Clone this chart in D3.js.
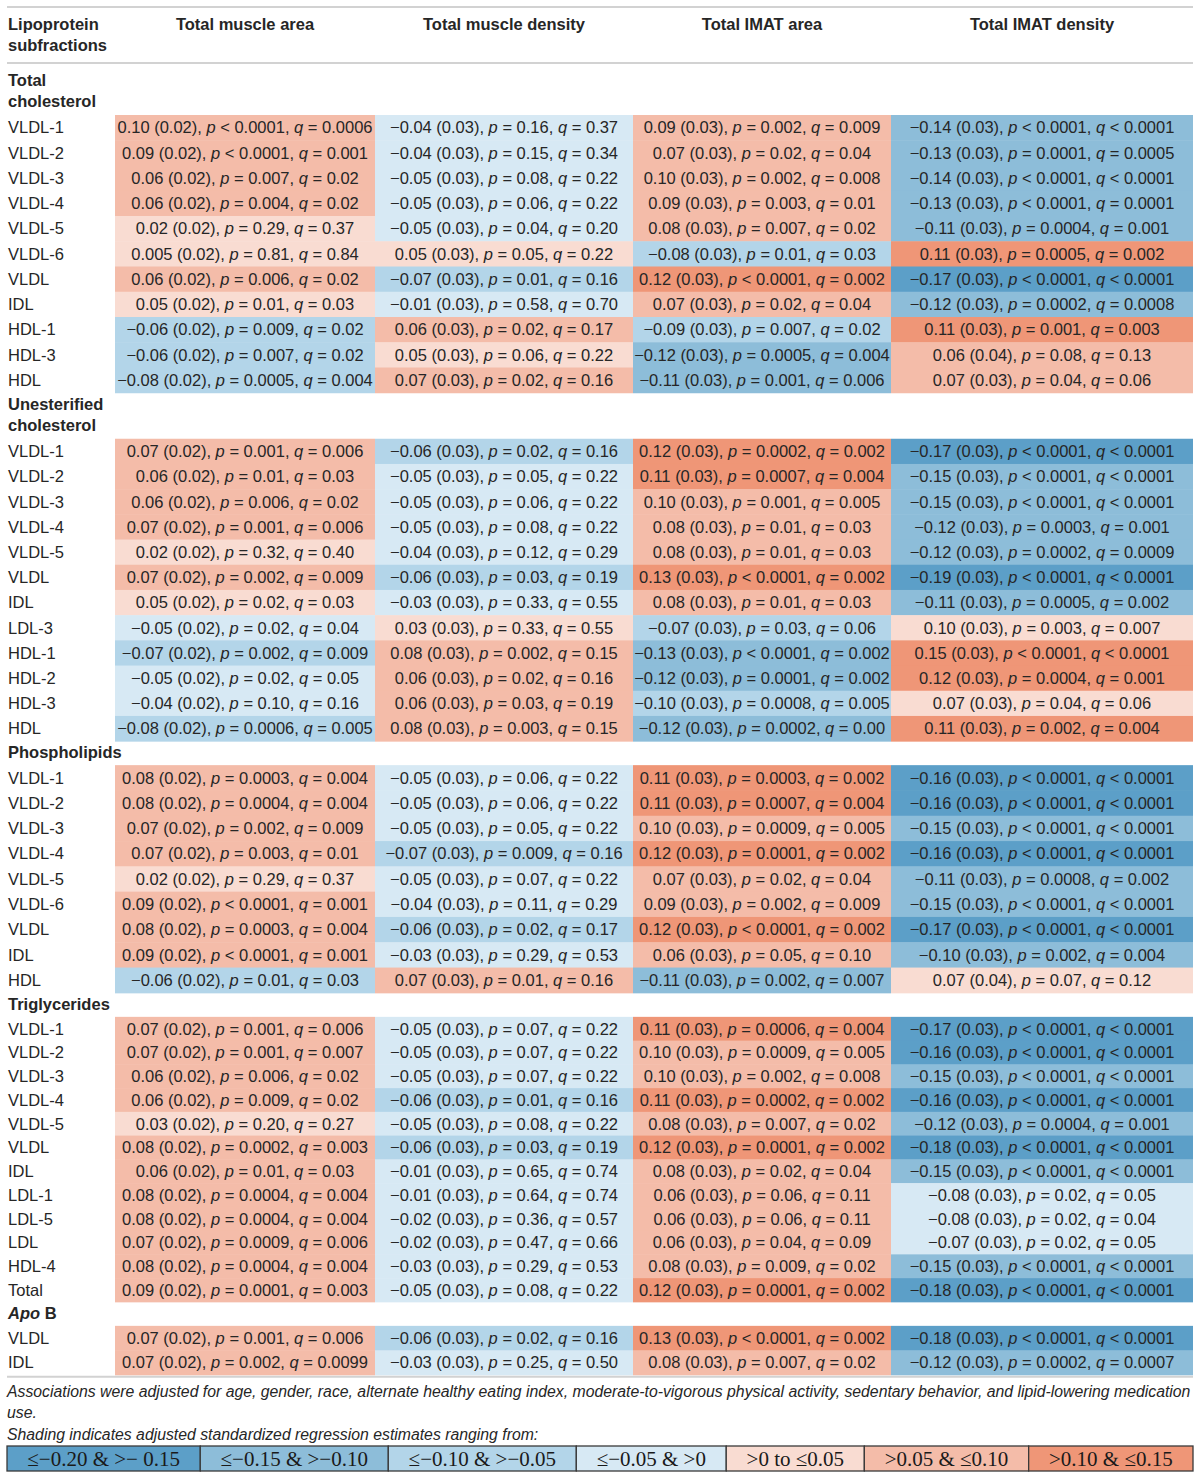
<!DOCTYPE html>
<html>
<head>
<meta charset="utf-8">
<script src="https://cdn.jsdelivr.net/npm/d3@7"></script>
<style>
  body { margin: 0; background: #fff; }
  svg text { font-family: "Helvetica Neue", Helvetica, "Liberation Sans", Arial, sans-serif; white-space: pre; }
</style>
</head>
<body>
<div id="chart"></div>
<script>
// ---- data ----
const columns = ["Total muscle area", "Total muscle density", "Total IMAT area", "Total IMAT density"];
const sectionNames = ["Total cholesterol", "Unesterified cholesterol", "Phospholipids", "Triglycerides", "Apo B"];

const totalCholLabels = ["VLDL-1", "VLDL-2", "VLDL-3", "VLDL-4", "VLDL-5", "VLDL-6", "VLDL", "IDL", "HDL-1", "HDL-3", "HDL"];
const totalCholCells = [
  ["0.10 (0.02), p < 0.0001, q = 0.0006", "−0.04 (0.03), p = 0.16, q = 0.37", "0.09 (0.03), p = 0.002, q = 0.009", "−0.14 (0.03), p < 0.0001, q < 0.0001"],
  ["0.09 (0.02), p < 0.0001, q = 0.001", "−0.04 (0.03), p = 0.15, q = 0.34", "0.07 (0.03), p = 0.02, q = 0.04", "−0.13 (0.03), p = 0.0001, q = 0.0005"],
  ["0.06 (0.02), p = 0.007, q = 0.02", "−0.05 (0.03), p = 0.08, q = 0.22", "0.10 (0.03), p = 0.002, q = 0.008", "−0.14 (0.03), p < 0.0001, q < 0.0001"],
  ["0.06 (0.02), p = 0.004, q = 0.02", "−0.05 (0.03), p = 0.06, q = 0.22", "0.09 (0.03), p = 0.003, q = 0.01", "−0.13 (0.03), p < 0.0001, q = 0.0001"],
  ["0.02 (0.02), p = 0.29, q = 0.37", "−0.05 (0.03), p = 0.04, q = 0.20", "0.08 (0.03), p = 0.007, q = 0.02", "−0.11 (0.03), p = 0.0004, q = 0.001"],
  ["0.005 (0.02), p = 0.81, q = 0.84", "0.05 (0.03), p = 0.05, q = 0.22", "−0.08 (0.03), p = 0.01, q = 0.03", "0.11 (0.03), p = 0.0005, q = 0.002"],
  ["0.06 (0.02), p = 0.006, q = 0.02", "−0.07 (0.03), p = 0.01, q = 0.16", "0.12 (0.03), p < 0.0001, q = 0.002", "−0.17 (0.03), p < 0.0001, q < 0.0001"],
  ["0.05 (0.02), p = 0.01, q = 0.03", "−0.01 (0.03), p = 0.58, q = 0.70", "0.07 (0.03), p = 0.02, q = 0.04", "−0.12 (0.03), p = 0.0002, q = 0.0008"],
  ["−0.06 (0.02), p = 0.009, q = 0.02", "0.06 (0.03), p = 0.02, q = 0.17", "−0.09 (0.03), p = 0.007, q = 0.02", "0.11 (0.03), p = 0.001, q = 0.003"],
  ["−0.06 (0.02), p = 0.007, q = 0.02", "0.05 (0.03), p = 0.06, q = 0.22", "−0.12 (0.03), p = 0.0005, q = 0.004", "0.06 (0.04), p = 0.08, q = 0.13"],
  ["−0.08 (0.02), p = 0.0005, q = 0.004", "0.07 (0.03), p = 0.02, q = 0.16", "−0.11 (0.03), p = 0.001, q = 0.006", "0.07 (0.03), p = 0.04, q = 0.06"]
];

const unestCholLabels = ["VLDL-1", "VLDL-2", "VLDL-3", "VLDL-4", "VLDL-5", "VLDL", "IDL", "LDL-3", "HDL-1", "HDL-2", "HDL-3", "HDL"];
const unestCholCells = [
  ["0.07 (0.02), p = 0.001, q = 0.006", "−0.06 (0.03), p = 0.02, q = 0.16", "0.12 (0.03), p = 0.0002, q = 0.002", "−0.17 (0.03), p < 0.0001, q < 0.0001"],
  ["0.06 (0.02), p = 0.01, q = 0.03", "−0.05 (0.03), p = 0.05, q = 0.22", "0.11 (0.03), p = 0.0007, q = 0.004", "−0.15 (0.03), p < 0.0001, q < 0.0001"],
  ["0.06 (0.02), p = 0.006, q = 0.02", "−0.05 (0.03), p = 0.06, q = 0.22", "0.10 (0.03), p = 0.001, q = 0.005", "−0.15 (0.03), p < 0.0001, q < 0.0001"],
  ["0.07 (0.02), p = 0.001, q = 0.006", "−0.05 (0.03), p = 0.08, q = 0.22", "0.08 (0.03), p = 0.01, q = 0.03", "−0.12 (0.03), p = 0.0003, q = 0.001"],
  ["0.02 (0.02), p = 0.32, q = 0.40", "−0.04 (0.03), p = 0.12, q = 0.29", "0.08 (0.03), p = 0.01, q = 0.03", "−0.12 (0.03), p = 0.0002, q = 0.0009"],
  ["0.07 (0.02), p = 0.002, q = 0.009", "−0.06 (0.03), p = 0.03, q = 0.19", "0.13 (0.03), p < 0.0001, q = 0.002", "−0.19 (0.03), p < 0.0001, q < 0.0001"],
  ["0.05 (0.02), p = 0.02, q = 0.03", "−0.03 (0.03), p = 0.33, q = 0.55", "0.08 (0.03), p = 0.01, q = 0.03", "−0.11 (0.03), p = 0.0005, q = 0.002"],
  ["−0.05 (0.02), p = 0.02, q = 0.04", "0.03 (0.03), p = 0.33, q = 0.55", "−0.07 (0.03), p = 0.03, q = 0.06", "0.10 (0.03), p = 0.003, q = 0.007"],
  ["−0.07 (0.02), p = 0.002, q = 0.009", "0.08 (0.03), p = 0.002, q = 0.15", "−0.13 (0.03), p < 0.0001, q = 0.002", "0.15 (0.03), p < 0.0001, q < 0.0001"],
  ["−0.05 (0.02), p = 0.02, q = 0.05", "0.06 (0.03), p = 0.02, q = 0.16", "−0.12 (0.03), p = 0.0001, q = 0.002", "0.12 (0.03), p = 0.0004, q = 0.001"],
  ["−0.04 (0.02), p = 0.10, q = 0.16", "0.06 (0.03), p = 0.03, q = 0.19", "−0.10 (0.03), p = 0.0008, q = 0.005", "0.07 (0.03), p = 0.04, q = 0.06"],
  ["−0.08 (0.02), p = 0.0006, q = 0.005", "0.08 (0.03), p = 0.003, q = 0.15", "−0.12 (0.03), p = 0.0002, q = 0.00", "0.11 (0.03), p = 0.002, q = 0.004"]
];

const phosphoLabels = ["VLDL-1", "VLDL-2", "VLDL-3", "VLDL-4", "VLDL-5", "VLDL-6", "VLDL", "IDL", "HDL"];
const phosphoCells = [
  ["0.08 (0.02), p = 0.0003, q = 0.004", "−0.05 (0.03), p = 0.06, q = 0.22", "0.11 (0.03), p = 0.0003, q = 0.002", "−0.16 (0.03), p < 0.0001, q < 0.0001"],
  ["0.08 (0.02), p = 0.0004, q = 0.004", "−0.05 (0.03), p = 0.06, q = 0.22", "0.11 (0.03), p = 0.0007, q = 0.004", "−0.16 (0.03), p < 0.0001, q < 0.0001"],
  ["0.07 (0.02), p = 0.002, q = 0.009", "−0.05 (0.03), p = 0.05, q = 0.22", "0.10 (0.03), p = 0.0009, q = 0.005", "−0.15 (0.03), p < 0.0001, q < 0.0001"],
  ["0.07 (0.02), p = 0.003, q = 0.01", "−0.07 (0.03), p = 0.009, q = 0.16", "0.12 (0.03), p = 0.0001, q = 0.002", "−0.16 (0.03), p < 0.0001, q < 0.0001"],
  ["0.02 (0.02), p = 0.29, q = 0.37", "−0.05 (0.03), p = 0.07, q = 0.22", "0.07 (0.03), p = 0.02, q = 0.04", "−0.11 (0.03), p = 0.0008, q = 0.002"],
  ["0.09 (0.02), p < 0.0001, q = 0.001", "−0.04 (0.03), p = 0.11, q = 0.29", "0.09 (0.03), p = 0.002, q = 0.009", "−0.15 (0.03), p < 0.0001, q < 0.0001"],
  ["0.08 (0.02), p = 0.0003, q = 0.004", "−0.06 (0.03), p = 0.02, q = 0.17", "0.12 (0.03), p < 0.0001, q = 0.002", "−0.17 (0.03), p < 0.0001, q < 0.0001"],
  ["0.09 (0.02), p < 0.0001, q = 0.001", "−0.03 (0.03), p = 0.29, q = 0.53", "0.06 (0.03), p = 0.05, q = 0.10", "−0.10 (0.03), p = 0.002, q = 0.004"],
  ["−0.06 (0.02), p = 0.01, q = 0.03", "0.07 (0.03), p = 0.01, q = 0.16", "−0.11 (0.03), p = 0.002, q = 0.007", "0.07 (0.04), p = 0.07, q = 0.12"]
];

const trigLabels = ["VLDL-1", "VLDL-2", "VLDL-3", "VLDL-4", "VLDL-5", "VLDL", "IDL", "LDL-1", "LDL-5", "LDL", "HDL-4", "Total"];
const trigCells = [
  ["0.07 (0.02), p = 0.001, q = 0.006", "−0.05 (0.03), p = 0.07, q = 0.22", "0.11 (0.03), p = 0.0006, q = 0.004", "−0.17 (0.03), p < 0.0001, q < 0.0001"],
  ["0.07 (0.02), p = 0.001, q = 0.007", "−0.05 (0.03), p = 0.07, q = 0.22", "0.10 (0.03), p = 0.0009, q = 0.005", "−0.16 (0.03), p < 0.0001, q < 0.0001"],
  ["0.06 (0.02), p = 0.006, q = 0.02", "−0.05 (0.03), p = 0.07, q = 0.22", "0.10 (0.03), p = 0.002, q = 0.008", "−0.15 (0.03), p < 0.0001, q < 0.0001"],
  ["0.06 (0.02), p = 0.009, q = 0.02", "−0.06 (0.03), p = 0.01, q = 0.16", "0.11 (0.03), p = 0.0002, q = 0.002", "−0.16 (0.03), p < 0.0001, q < 0.0001"],
  ["0.03 (0.02), p = 0.20, q = 0.27", "−0.05 (0.03), p = 0.08, q = 0.22", "0.08 (0.03), p = 0.007, q = 0.02", "−0.12 (0.03), p = 0.0004, q = 0.001"],
  ["0.08 (0.02), p = 0.0002, q = 0.003", "−0.06 (0.03), p = 0.03, q = 0.19", "0.12 (0.03), p = 0.0001, q = 0.002", "−0.18 (0.03), p < 0.0001, q < 0.0001"],
  ["0.06 (0.02), p = 0.01, q = 0.03", "−0.01 (0.03), p = 0.65, q = 0.74", "0.08 (0.03), p = 0.02, q = 0.04", "−0.15 (0.03), p < 0.0001, q < 0.0001"],
  ["0.08 (0.02), p = 0.0004, q = 0.004", "−0.01 (0.03), p = 0.64, q = 0.74", "0.06 (0.03), p = 0.06, q = 0.11", "−0.08 (0.03), p = 0.02, q = 0.05"],
  ["0.08 (0.02), p = 0.0004, q = 0.004", "−0.02 (0.03), p = 0.36, q = 0.57", "0.06 (0.03), p = 0.06, q = 0.11", "−0.08 (0.03), p = 0.02, q = 0.04"],
  ["0.07 (0.02), p = 0.0009, q = 0.006", "−0.02 (0.03), p = 0.47, q = 0.66", "0.06 (0.03), p = 0.04, q = 0.09", "−0.07 (0.03), p = 0.02, q = 0.05"],
  ["0.08 (0.02), p = 0.0004, q = 0.004", "−0.03 (0.03), p = 0.29, q = 0.53", "0.08 (0.03), p = 0.009, q = 0.02", "−0.15 (0.03), p < 0.0001, q < 0.0001"],
  ["0.09 (0.02), p = 0.0001, q = 0.003", "−0.05 (0.03), p = 0.08, q = 0.22", "0.12 (0.03), p = 0.0001, q = 0.002", "−0.18 (0.03), p < 0.0001, q < 0.0001"]
];

const apoBLabels = ["VLDL", "IDL"];
const apoBCells = [
  ["0.07 (0.02), p = 0.001, q = 0.006", "−0.06 (0.03), p = 0.02, q = 0.16", "0.13 (0.03), p < 0.0001, q = 0.002", "−0.18 (0.03), p < 0.0001, q < 0.0001"],
  ["0.07 (0.02), p = 0.002, q = 0.0099", "−0.03 (0.03), p = 0.25, q = 0.50", "0.08 (0.03), p = 0.007, q = 0.02", "−0.12 (0.03), p = 0.0002, q = 0.0007"]
];

// shading bins (legend order) and the cells whose published shading differs from the estimate's bin
const legendLabels = ["≤−0.20 & >− 0.15", "≤−0.15 & >−0.10", "≤−0.10 & >−0.05", "≤−0.05 & >0", ">0 to ≤0.05", ">0.05 & ≤0.10", ">0.10 & ≤0.15"];
const binCuts = [-0.15, -0.10, -0.05, 0, 0.055, 0.105];
const shadeOverrides = [
  ["Unesterified cholesterol", "LDL-3", 3, 4],
  ["Unesterified cholesterol", "HDL-3", 3, 4],
  ["Phospholipids", "IDL", 3, 1],
  ["Phospholipids", "HDL", 3, 4],
  ["Triglycerides", "LDL-1", 3, 3],
  ["Triglycerides", "LDL-5", 3, 3],
  ["Triglycerides", "LDL", 3, 3]
];

const footnoteLines = [
  "Associations were adjusted for age, gender, race, alternate healthy eating index, moderate-to-vigorous physical activity, sedentary behavior, and lipid-lowering medication",
  "use.",
  "Shading indicates adjusted standardized regression estimates ranging from:"
];

// ---- layout ----
const width = 1200, height = 1478;
const colEdges = [115, 375, 633, 891, 1193];
const left = 7, right = 1193;
const rowHeights = [25.25, 25.2, 25.3, 23.75, 24.5];
const fontSize = 16.5;
const textColor = "#262626";
const shadeColors = ["#5c9fc8", "#8dbdd9", "#b3d5e9", "#d7e9f4", "#f9dcd2", "#f4bca9", "#ef9677"];

const svg = d3.select("#chart").append("svg")
  .attr("width", width)
  .attr("height", height);

const shade = d3.scaleThreshold().domain(binCuts).range(d3.range(7));
const color = d3.scaleOrdinal().domain(d3.range(7)).range(shadeColors);

const x = d3.scaleOrdinal().domain(columns).range(colEdges.slice(0, 4));
const colWidth = c => colEdges[columns.indexOf(c) + 1] - x(c);

const sections = [
  {name: sectionNames[0], labels: totalCholLabels, cells: totalCholCells},
  {name: sectionNames[1], labels: unestCholLabels, cells: unestCholCells},
  {name: sectionNames[2], labels: phosphoLabels, cells: phosphoCells},
  {name: sectionNames[3], labels: trigLabels, cells: trigCells},
  {name: sectionNames[4], labels: apoBLabels, cells: apoBCells}
];

function rule(y) {
  svg.append("line")
    .attr("x1", left).attr("x2", right)
    .attr("y1", y).attr("y2", y)
    .attr("stroke", "#d2d2d2")
    .attr("stroke-width", 2);
}

// word wrap by measured width
function wrapWords(str, maxW, weight) {
  let probe = svg.append("text").style("font-size", fontSize + "px").style("font-weight", weight);
  let words = str.split(" "), lines = [], cur = "";
  words.forEach(w => {
    let test = cur ? cur + " " + w : w;
    probe.text(test);
    if (probe.node().getComputedTextLength() > maxW && cur) {
      lines.push(cur);
      cur = w;
    } else {
      cur = test;
    }
  });
  lines.push(cur);
  probe.remove();
  return lines;
}

// ---- header ----
rule(7);
rule(63);

let headLines = wrapWords("Lipoprotein subfractions", 100, "bold");
svg.selectAll(".head-label")
  .data(headLines)
  .enter().append("text")
  .attr("class", "head-label")
  .attr("x", 8)
  .attr("y", (d, i) => 24 + i * 21)
  .attr("dy", "0.35em")
  .style("font-size", fontSize + "px")
  .style("font-weight", "bold")
  .attr("fill", textColor)
  .text(d => d);

svg.selectAll(".col-head")
  .data(columns)
  .enter().append("text")
  .attr("class", "col-head")
  .attr("x", d => x(d) + colWidth(d) / 2)
  .attr("y", 24)
  .attr("dy", "0.35em")
  .attr("text-anchor", "middle")
  .style("font-size", fontSize + "px")
  .style("font-weight", "bold")
  .attr("fill", textColor)
  .text(d => d);

// ---- body ----
function estimateOf(s) {
  return +s.split(" ")[0].replace("−", "-");
}

let cursor = 69;
sections.forEach((sec, si) => {
  let nameLines = wrapWords(sec.name, 107, "bold");
  let g = svg.append("g").attr("class", "section");

  nameLines.forEach((ln, li) => {
    let t = g.append("text")
      .attr("x", 8)
      .attr("y", cursor + 11 + li * 21)
      .attr("dy", "0.35em")
      .style("font-size", fontSize + "px")
      .style("font-weight", "bold")
      .attr("fill", textColor);
    if (ln.startsWith("Apo")) {
      t.append("tspan").style("font-style", "italic").text("Apo");
      t.append("tspan").text(ln.slice(3));
    } else {
      t.text(ln);
    }
  });

  let top = cursor + (nameLines.length > 1 ? 46 : 24);
  let y = d3.scaleBand()
    .domain(sec.labels)
    .range([top, top + sec.labels.length * rowHeights[si]]);

  let cellData = [];
  sec.labels.forEach((lab, ri) => {
    columns.forEach((c, ci) => {
      let txt = sec.cells[ri][ci];
      let bin = shade(estimateOf(txt));
      let ov = shadeOverrides.find(o => o[0] === sec.name && o[1] === lab && o[2] === ci);
      if (ov) bin = ov[3];
      cellData.push({row: lab, col: c, text: txt, bin: bin});
    });
  });

  g.selectAll(".cell")
    .data(cellData)
    .enter().append("rect")
    .attr("class", "cell")
    .attr("x", d => x(d.col))
    .attr("y", d => y(d.row))
    .attr("width", d => colWidth(d.col))
    .attr("height", y.bandwidth() + 0.5)
    .attr("fill", d => color(d.bin));

  g.selectAll(".row-label")
    .data(sec.labels)
    .enter().append("text")
    .attr("class", "row-label")
    .attr("x", 8)
    .attr("y", d => y(d) + y.bandwidth() / 2)
    .attr("dy", "0.35em")
    .style("font-size", fontSize + "px")
    .attr("fill", textColor)
    .text(d => d);

  let cellText = g.selectAll(".cell-text")
    .data(cellData)
    .enter().append("text")
    .attr("class", "cell-text")
    .attr("x", d => x(d.col) + colWidth(d.col) / 2)
    .attr("y", d => y(d.row) + y.bandwidth() / 2)
    .attr("dy", "0.35em")
    .attr("text-anchor", "middle")
    .style("font-size", fontSize + "px")
    .attr("fill", textColor);

  // p and q in italics
  cellText.each(function(d) {
    let parts = d.text.split(/\b([pq])\b/);
    let t = d3.select(this);
    parts.forEach((p, i) => {
      t.append("tspan")
        .style("font-style", i % 2 ? "italic" : "normal")
        .text(p);
    });
  });

  cursor = top + sec.labels.length * rowHeights[si];
});

rule(cursor + 2);

// ---- footnote ----
svg.selectAll(".foot")
  .data(footnoteLines)
  .enter().append("text")
  .attr("class", "foot")
  .attr("x", 7)
  .attr("y", (d, i) => 1391 + i * 21.5)
  .attr("dy", "0.35em")
  .style("font-size", "15.8px")
  .style("font-style", "italic")
  .attr("fill", textColor)
  .text(d => d);

// ---- shading legend ----
const legY = 1446, legH = 25, legFont = 21;
let probe = svg.append("text")
  .style("font-family", "'Liberation Serif', 'Times New Roman', serif")
  .style("font-size", legFont + "px");
let textW = legendLabels.map(l => { probe.text(l); return probe.node().getComputedTextLength(); });
probe.remove();
let extra = ((right - left) - d3.sum(textW)) / legendLabels.length;
let legX = [left];
textW.forEach(w => legX.push(legX[legX.length - 1] + w + extra));

let leg = svg.append("g").attr("class", "legend");
leg.selectAll("rect")
  .data(legendLabels)
  .enter().append("rect")
  .attr("x", (d, i) => legX[i])
  .attr("y", legY)
  .attr("width", (d, i) => legX[i + 1] - legX[i])
  .attr("height", legH)
  .attr("fill", (d, i) => color(i))
  .attr("stroke", "#3a3a3a")
  .attr("stroke-width", 1.3);

leg.selectAll("text")
  .data(legendLabels)
  .enter().append("text")
  .attr("x", (d, i) => (legX[i] + legX[i + 1]) / 2)
  .attr("y", legY + legH / 2)
  .attr("dy", "0.34em")
  .attr("text-anchor", "middle")
  .style("font-family", "'Liberation Serif', 'Times New Roman', serif")
  .style("font-size", legFont + "px")
  .attr("fill", "#1a1a1a")
  .text(d => d);
</script>
</body>
</html>
